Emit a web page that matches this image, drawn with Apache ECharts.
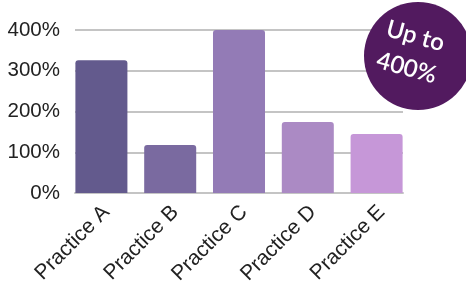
<!DOCTYPE html>
<html>
<head>
<meta charset="utf-8">
<script src="https://cdn.jsdelivr.net/npm/echarts@6/dist/echarts.min.js"></script>
<style>
html, body { margin: 0; padding: 0; background: #fff; }
#chart { width: 466px; height: 287px; }
</style>
</head>
<body>
<div id="chart"></div>
<script>
// data
var categories = ['Practice A', 'Practice B', 'Practice C', 'Practice D', 'Practice E'];
var values = [326, 118, 400, 174, 145];
var barColors = ['#635a8d', '#7a6aa0', '#937bb6', '#ab8ac4', '#c697d8'];
var yTicks = [0, 100, 200, 300, 400];

var chart = echarts.init(document.getElementById('chart'));

// grid 0: gridlines + y labels (lines end flush with outer bars)
// grid 1: bars
// grid 2: rotated category labels, nudged a bit right
chart.setOption({
    animation: false,
    grid: [
        { left: 75, right: 63, top: 30, bottom: 94 },
        { left: 67, right: 55, top: 30, bottom: 94 },
        { left: 72, right: 50, top: 30, bottom: 94 }
    ],
    xAxis: [
        {
            gridIndex: 0,
            type: 'category',
            data: categories,
            axisLine: { lineStyle: { color: '#c4c4c4', width: 2 } },
            axisTick: { show: false },
            axisLabel: { show: false }
        },
        {
            gridIndex: 1,
            type: 'category',
            data: categories,
            axisLine: { show: false },
            axisTick: { show: false },
            axisLabel: { show: false }
        },
        {
            gridIndex: 2,
            type: 'category',
            data: categories,
            axisLine: { show: false },
            axisTick: { show: false },
            axisLabel: {
                rotate: 45,
                color: '#222',
                fontFamily: 'Liberation Sans',
                fontSize: 21,
                margin: 20,
                interval: 0
            }
        }
    ],
    yAxis: [
        {
            gridIndex: 0,
            type: 'value',
            min: yTicks[0],
            max: yTicks[yTicks.length - 1],
            interval: 100,
            axisLine: { show: false },
            axisTick: { show: false },
            axisLabel: {
                formatter: '{value}%',
                color: '#222',
                fontFamily: 'Liberation Sans',
                fontSize: 20.5,
                margin: 15
            },
            splitLine: { lineStyle: { color: '#c4c4c4', width: 2 } }
        },
        {
            gridIndex: 1,
            type: 'value',
            min: yTicks[0],
            max: yTicks[yTicks.length - 1],
            interval: 100,
            show: false
        },
        {
            gridIndex: 2,
            type: 'value',
            min: yTicks[0],
            max: yTicks[yTicks.length - 1],
            interval: 100,
            show: false
        }
    ],
    series: [{
        type: 'bar',
        xAxisIndex: 1,
        yAxisIndex: 1,
        barCategoryGap: '24.4%',
        data: values.map(function (v, i) {
            return { value: v, itemStyle: { color: barColors[i] } };
        }),
        itemStyle: { borderRadius: [3, 3, 0, 0] }
    }],
    graphic: [
        {
            type: 'circle',
            shape: { cx: 418, cy: 56, r: 54 },
            style: { fill: '#521a5f' },
            z: 100
        },
        {
            type: 'text',
            x: 411, y: 52,
            rotation: -0.27,
            z: 101,
            style: {
                text: 'Up to\n400%',
                fill: '#fff',
                font: '600 24px Lato',
                lineHeight: 33,
                align: 'center',
                verticalAlign: 'middle'
            }
        }
    ]
});
</script>
</body>
</html>
